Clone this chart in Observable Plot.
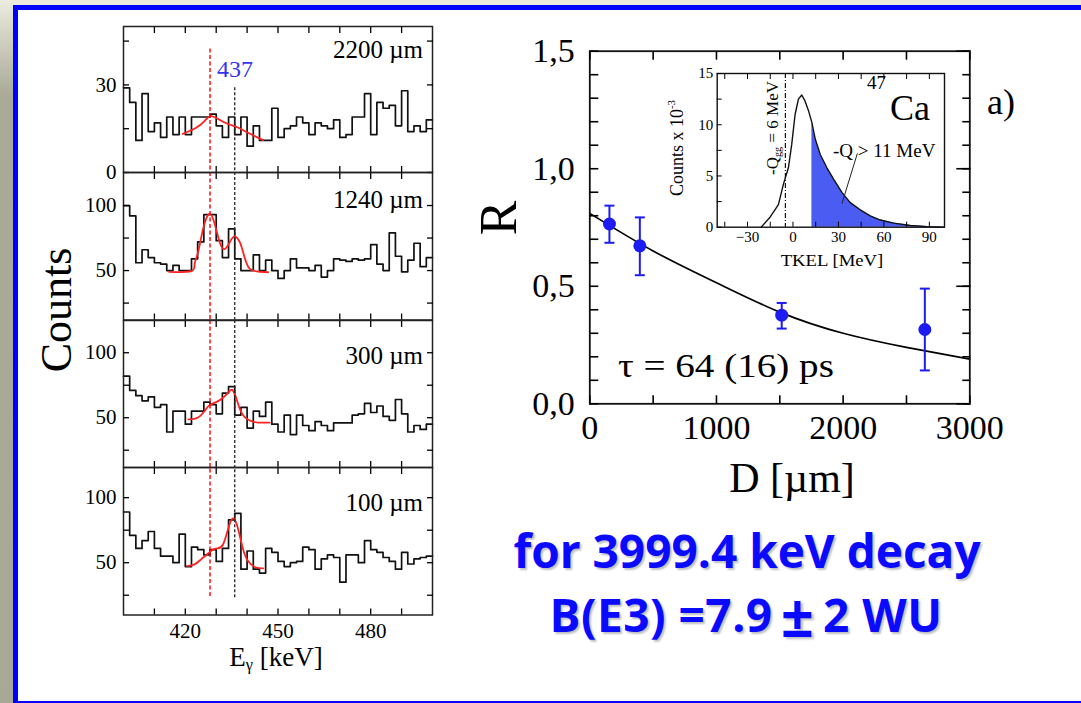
<!DOCTYPE html>
<html><head><meta charset="utf-8">
<script src="https://cdn.jsdelivr.net/npm/d3@7"></script>
<script src="https://cdn.jsdelivr.net/npm/@observablehq/plot@0.6"></script>
<style>
html,body{margin:0;padding:0;background:#fff;}
#slide{position:relative;width:1081px;height:703px;overflow:hidden;background:#fff;}
#slide sup{font-size:0.6em;vertical-align:0.75em;line-height:0;}
#slide sub{font-size:0.6em;vertical-align:-0.3em;line-height:0;}
.deco{position:absolute;}
.pm{display:inline-block;transform:scale(1.25);margin:0 0.08em;}
</style></head>
<body>
<div id="slide">
  <div class="deco" style="left:0;top:0;width:1081px;height:5px;background:#ecebdd"></div>
  <div class="deco" style="left:0;top:0;width:13px;height:703px;background:linear-gradient(to bottom,#ebebdf 0px,#a9ab98 95px,#a7a996 100%)"></div>
  <div class="deco" style="left:13px;top:5px;width:1068px;height:5px;background:#0000ff"></div>
  <div class="deco" style="left:13px;top:5px;width:4.5px;height:698px;background:#0000ff"></div>
  <div class="deco" style="left:13px;top:700.5px;width:1068px;height:2.5px;background:#0000ff"></div>
</div>
<script>
// ---------------- data ----------------
const BIN_START = 400, BIN_WIDTH = 2;
const distanceLabels = ["2200 µm", "1240 µm", "300 µm", "100 µm"];
const counts2200 = [29,24,11,27,14,17,12,19,13,19,13,19,19,19,20,16,12,19,13,19,9,16,11,11,22,12,15,16,19,17,13,17,16,15,18,12,13,19,19,27,13,24,22,23,16,28,14,16,14,18];
const counts1240 = [100,92,56,66,60,56,55,50,54,50,50,59,72,93,93,73,60,82,59,50,50,62,50,58,50,44,50,59,52,52,50,54,45,50,59,58,57,59,58,59,70,55,50,79,61,49,58,71,53,60];
const counts300  = [82,71,67,63,66,58,60,39,55,55,45,55,55,62,60,53,69,74,52,58,42,55,51,62,45,39,52,37,52,44,40,47,44,40,46,46,46,52,53,61,54,59,51,48,64,53,39,44,41,45];
const counts100  = [89,71,61,67,74,61,55,55,50,72,47,62,60,56,60,51,61,83,88,45,59,45,42,61,58,51,47,50,51,62,60,45,53,56,54,35,56,56,50,67,60,58,54,51,45,58,49,53,54,55];
const fit2200 = [[419.2,13.2],[423.5,15.3],[426.2,17.6],[428.2,19.3],[430.6,18.3],[433.8,16.6],[437,15.4],[440.3,13.6],[445.2,11.1]];
const fit1240 = [[414.8,49],[421.9,49.5],[423,55],[424,63],[425.1,75],[426.2,86],[427.8,93.5],[429.5,86],[431.1,72],[432.7,66.5],[434.3,71.5],[435.7,76],[437.6,72],[439.2,60],[440.8,51.5],[443.5,49.3],[446.8,48.7]];
const fit300  = [[421,48.7],[424,50],[426.2,55],[427.8,59.5],[430,62],[432.2,65.4],[434.3,70.5],[435.2,71.5],[436.2,67],[437.6,57],[439.2,50.5],[441.4,47.4],[443.5,46.3],[447.3,46.2]];
const fit100  = [[420.6,47.4],[423,48.7],[425.1,52.6],[427.3,56.9],[428.9,60],[430.5,61],[432.2,64],[433.8,75.6],[435.4,84.1],[437,76.7],[438.7,60.3],[440.3,51.3],[442.5,46.7],[445.2,45.6]];
const yTickLabels = [[0,30],[50,100],[50,100],[50,100]];
const yTicksAll = [[0,15,30,45],[25,50,75,100],[25,50,75,100],[25,50,75,100]];
const yRanges = [[0,50],[12,125.4],[11.7,124.8],[9.8,123.2]];
const xTickLabels = [420,450,480];
const E_RED = 428, E_437 = 436;

const distD = [155, 395, 1515, 2645];
const ratioR = [0.765, 0.672, 0.377, 0.316];
const ratioLo = [0.685, 0.547, 0.32, 0.142];
const ratioHi = [0.843, 0.793, 0.429, 0.49];
const fitD = [0, 500, 1000, 1500, 2000, 2500, 3000];
const fitR = [0.81, 0.65, 0.515, 0.39, 0.30, 0.24, 0.19];
const rTicks = [0, 0.5, 1.0, 1.5];
const dTicks = [0, 1000, 2000, 3000];

const tkel   = [-21,-15,-9.6,-6.3,-3,-0.8,1.4,3.6,5.8,8,10.2,12.5,14.7,18,22.4,26.8,32.3,37.8,44.4,51,57.7,66.5,77.5,88.6,99.6];
const tkelCounts = [0,1.0,2.2,4.2,5.8,8.1,11.0,12.5,12.9,12.3,11.4,10.2,8.6,7.1,5.8,4.7,3.4,2.4,1.7,1.1,0.7,0.4,0.16,0.06,0];
const Q_CUT = 12.5, QGG_LINE = -5;
const tkelTicks = [-30, 0, 30, 60, 90];
const countTicks = [0, 5, 10, 15];

// ---------------- helpers ----------------
const serif = '"Liberation Serif","Times New Roman",serif';
const slide = document.getElementById("slide");
function put(node, left, top) {
  node.style.position = "absolute"; node.style.left = left + "px"; node.style.top = top + "px";
  slide.appendChild(node);
}
function label(html, x, y, o = {}) {
  const d = document.createElement("div");
  d.innerHTML = html;
  const ax = o.anchor === "end" ? "-100%" : o.anchor === "start" ? "0%" : "-50%";
  Object.assign(d.style, {
    position: "absolute", left: x + "px", top: y + "px", whiteSpace: "nowrap", lineHeight: "1",
    fontFamily: o.family || serif, fontSize: (o.size || 20) + "px", fontWeight: o.weight || "normal",
    color: o.color || "#000", textShadow: o.shadow || "none", letterSpacing: o.ls || "normal",
    transformOrigin: o.anchor === "start" ? "0 50%" : "50% 50%",
    transform: `translate(${ax},-50%) rotate(${o.rotate || 0}deg) scaleX(${o.sx || 1})`
  });
  slide.appendChild(d);
}
const noText = () => "";
const plain = d => String(d);

// ---------------- left: four spectra ----------------
const allCounts = [counts2200, counts1240, counts300, counts100];
const allFits = [fit2200, fit1240, fit300, fit100];
const panelTop = [26, 172, 319.5, 466.5], panelBottom = [172, 319.5, 466.5, 614];
const redSpan = [[42.3, 0], null, null, [24, 123.2]];
const blackSpan = [[29, 0], null, null, [23, 123.2]];
const xMinor = d3.range(410, 500, 10);

allCounts.forEach((counts, i) => {
  const last = i === 3;
  const mt = 10, mb = last ? 60 : 10;
  const hist = counts.map((c, k) => ({x: BIN_START + k * BIN_WIDTH, y: c}));
  hist.push({x: BIN_START + counts.length * BIN_WIDTH, y: counts[counts.length - 1]});
  const fit = allFits[i].map(([x, y]) => ({x, y}));
  const rs = redSpan[i], bs = blackSpan[i];
  const redStyle = {stroke: "#ff0000", strokeWidth: 1.4, strokeDasharray: "4,2.5"};
  const blackStyle = {stroke: "#222", strokeWidth: 1.3, strokeDasharray: "3,2"};
  const marks = [
    Plot.line(hist, {x: "x", y: "y", curve: "step-after", stroke: "#111", strokeWidth: 1.7}),
    Plot.line(fit, {x: "x", y: "y", curve: "natural", stroke: "#ff2222", strokeWidth: 1.8}),
    Plot.ruleX([E_RED], rs ? {y1: rs[0], y2: rs[1], ...redStyle} : redStyle),
    Plot.ruleX([E_437], bs ? {y1: bs[0], y2: bs[1], ...blackStyle} : blackStyle),
    Plot.frame({stroke: "#222", strokeWidth: 1.5}),
    Plot.axisY(yTicksAll[i], {anchor: "left", tickSize: 6, dx: 6, tickFormat: noText, label: null, strokeWidth: 1.3}),
    Plot.axisY(yTicksAll[i], {anchor: "right", tickSize: 6, dx: -6, tickFormat: noText, label: null, strokeWidth: 1.3}),
    Plot.axisY(yTickLabels[i], {anchor: "left", tickSize: 0, tickPadding: 7, label: null}),
    Plot.axisX(xMinor, {anchor: "top", tickSize: 6, dy: 6, tickFormat: noText, label: null, strokeWidth: 1.3}),
    Plot.axisX(xMinor, {anchor: "bottom", tickSize: 6, dy: -6, tickFormat: noText, label: null, strokeWidth: 1.3})
  ];
  if (last) marks.push(Plot.axisX(xTickLabels, {anchor: "bottom", tickSize: 0, tickPadding: 8, label: null}));
  const h = panelBottom[i] - panelTop[i];
  const chart = Plot.plot({
    width: 440, height: h + mt + mb,
    marginLeft: 123, marginRight: 8, marginTop: mt, marginBottom: mb,
    x: {domain: [400, 500]}, y: {domain: yRanges[i]},
    style: {fontFamily: serif, fontSize: "21px", color: "#000", background: "transparent", overflow: "visible"},
    marks
  });
  put(chart, 0, panelTop[i] - mt);
});
const labelBaselines = [57, 207, 363, 510];
distanceLabels.forEach((t, i) => label(t, 423, labelBaselines[i] - 8, {anchor: "end", size: 25}));
label("437", 235, 69, {size: 24, color: "#3535ee"});
label("Counts", 57, 310, {size: 44, rotate: -90});
label("E<sub>γ</sub> [keV]", 276, 657, {size: 27});

// ---------------- right: R vs D ----------------
const pts = distD.map((d, k) => ({D: d, R: ratioR[k], lo: ratioLo[k], hi: ratioHi[k]}));
const curve = fitD.map((d, k) => ({D: d, R: fitR[k]}));
const blue = "#1c1cf2";
const capSymbol = {draw(ctx, size) { const r = Math.sqrt(size / Math.PI); ctx.moveTo(-r, 0); ctx.lineTo(r, 0); }};
const fmtComma = d => d.toFixed(1).replace(".", ",");
const main = Plot.plot({
  width: 620, height: 500,
  marginLeft: 129.3, marginRight: 110.7, marginTop: 50.7, marginBottom: 96.7,
  x: {domain: [0, 3000]}, y: {domain: [0, 1.5]},
  style: {fontFamily: serif, fontSize: "34px", color: "#000", background: "transparent", overflow: "visible"},
  marks: [
    Plot.line(curve, {x: "D", y: "R", curve: "natural", stroke: "#000", strokeWidth: 1.7}),
    Plot.ruleX(pts, {x: "D", y1: "lo", y2: "hi", stroke: blue, strokeWidth: 2}),
    Plot.dot(pts, {x: "D", y: "lo", symbol: capSymbol, r: 5, stroke: blue, strokeWidth: 2, fill: "none"}),
    Plot.dot(pts, {x: "D", y: "hi", symbol: capSymbol, r: 5, stroke: blue, strokeWidth: 2, fill: "none"}),
    Plot.dot(pts, {x: "D", y: "R", r: 6.5, fill: blue, stroke: "none"}),
    Plot.frame({stroke: "#111", strokeWidth: 1.8}),
    Plot.axisX(d3.range(0, 3001, 500), {anchor: "bottom", tickSize: 8, dy: -8, tickFormat: noText, label: null, strokeWidth: 1.6}),
    Plot.axisX(d3.range(0, 3001, 500), {anchor: "top", tickSize: 8, dy: 8, tickFormat: noText, label: null, strokeWidth: 1.6}),
    Plot.axisX(dTicks, {anchor: "bottom", tickSize: 0, tickPadding: 11, tickFormat: plain, label: null}),
    Plot.axisY(d3.range(0, 1.51, 0.1), {anchor: "left", tickSize: 9, dx: 9, tickFormat: noText, label: null, strokeWidth: 1.6}),
    Plot.axisY(d3.range(0, 1.51, 0.1), {anchor: "right", tickSize: 8, dx: -8, tickFormat: noText, label: null, strokeWidth: 1.6}),
    Plot.axisY(rTicks, {anchor: "right", tickSize: 14, dx: -14, tickFormat: noText, label: null, strokeWidth: 1.6}),
    Plot.axisY(rTicks, {anchor: "left", tickSize: 0, tickPadding: 15, tickFormat: fmtComma, label: null})
  ]
});
put(main, 460, 0);

// inset
const spec = tkel.map((x, k) => ({x, y: tkelCounts[k]}));
const inset = Plot.plot({
  width: 320, height: 240,
  marginLeft: 76.7, marginRight: 16, marginTop: 33, marginBottom: 53.3,
  x: {domain: [-50, 100]}, y: {domain: [0, 15]},
  style: {fontFamily: serif, fontSize: "15px", color: "#000", background: "transparent", overflow: "visible"},
  marks: [
    Plot.areaY(spec.filter(d => d.x >= Q_CUT), {x: "x", y: "y", fill: "#4b5cf3"}),
    Plot.line(spec, {x: "x", y: "y", stroke: "#111", strokeWidth: 1.4}),
    Plot.ruleX([QGG_LINE], {stroke: "#111", strokeWidth: 1.2, strokeDasharray: "5,2,1,2"}),
    Plot.link([{x1: 42.5, y1: 7.2, x2: 32.3, y2: 2.3}], {x1: "x1", y1: "y1", x2: "x2", y2: "y2", stroke: "#222", strokeWidth: 1}),
    Plot.frame({stroke: "#111", strokeWidth: 1.4}),
    Plot.axisY(d3.range(0, 15.1, 2.5), {anchor: "left", tickSize: 5, dx: 5, tickFormat: noText, label: null}),
    Plot.axisY(countTicks, {anchor: "left", tickSize: 0, tickPadding: 4, label: null}),
    Plot.axisX(d3.range(-45, 100, 15), {anchor: "bottom", tickSize: 5, dy: -5, tickFormat: noText, label: null}),
    Plot.axisX(d3.range(-45, 100, 15), {anchor: "top", tickSize: 5, dy: 5, tickFormat: noText, label: null}),
    Plot.axisX(tkelTicks, {anchor: "bottom", tickSize: 0, tickPadding: 4, label: null})
  ]
});
put(inset, 640, 40);

label("R", 499, 218, {size: 52, rotate: -90});
label("D [µm]", 792, 478, {size: 42});
label("a)", 1001, 102, {size: 36});
label("τ = 64 (16) ps", 618, 366, {size: 34, anchor: "start", sx: 1.15});
label("Counts x 10<sup>-3</sup>", 677, 148, {size: 18, rotate: -90});
label("-Q<sub>gg</sub> = 6 MeV", 772, 128, {size: 17, rotate: -90});
label("47", 876.5, 82, {size: 19});
label("Ca", 910, 108, {size: 36});
label("-Q &gt; 11 MeV", 833, 150, {size: 19, anchor: "start"});
label("TKEL [MeV]", 832, 260, {size: 17, sx: 1.1});

// bottom text
const shadow = "2px 2px 2px rgba(0,0,0,0.25)";
label("for 3999.4 keV decay", 747, 550, {size: 46, family: '"Open Sans",sans-serif', weight: 700, color: "#0a0aff", shadow});
label("B(E3) =7.9\u2009<span class=\"pm\">±</span>\u20092 WU", 746, 614, {size: 46, family: '"Open Sans",sans-serif', weight: 700, color: "#0a0aff", shadow, ls: "0.5px"});
</script>
</body></html>
